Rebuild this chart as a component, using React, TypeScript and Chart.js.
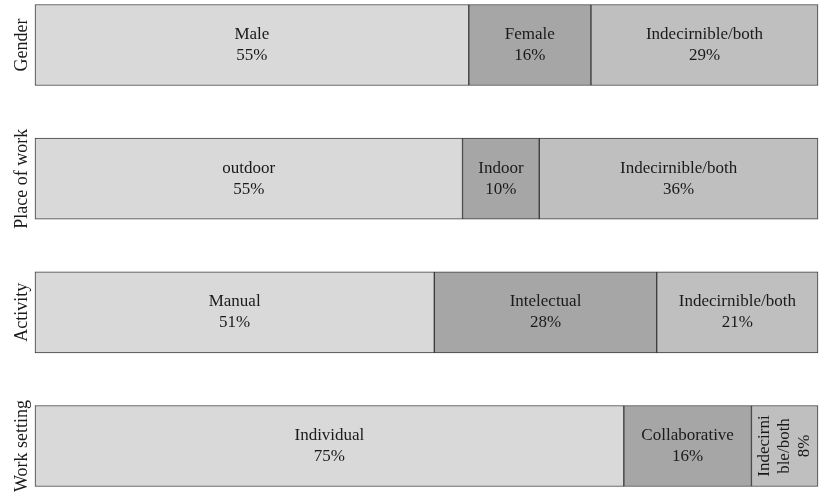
import React, { useEffect, useRef } from "react";
import { Chart, registerables } from "chart.js";

Chart.register(...registerables);

const categories = ["Gender", "Place of work", "Activity", "Work setting"];

const firstValues = [55.4, 54.6, 51.0, 75.2];
const secondValues = [15.6, 9.8, 28.4, 16.3];
const thirdValues = [29.0, 35.6, 20.6, 8.5];

const firstNames = ["Male", "outdoor", "Manual", "Individual"];
const secondNames = ["Female", "Indoor", "Intelectual", "Collaborative"];
const thirdNames = ["Indecirnible/both", "Indecirnible/both", "Indecirnible/both", "Indecirni\nble/both"];

const firstPercents = ["55%", "55%", "51%", "75%"];
const secondPercents = ["16%", "10%", "28%", "16%"];
const thirdPercents = ["29%", "36%", "21%", "8%"];

const thirdRotated = [false, false, false, true];

const FONT = '17px "Liberation Serif", "Times New Roman", serif';
const AXIS_FONT = '18px "Liberation Serif", "Times New Roman", serif';

const segmentLabels = [
  { names: firstNames, percents: firstPercents, rotated: [false, false, false, false] },
  { names: secondNames, percents: secondPercents, rotated: [false, false, false, false] },
  { names: thirdNames, percents: thirdPercents, rotated: thirdRotated },
];

const labelPlugin = {
  id: "segLabels",
  afterDatasetsDraw(chart: any) {
    const ctx = chart.ctx;
    ctx.save();
    ctx.font = FONT;
    ctx.fillStyle = "#1a1a1a";
    ctx.textAlign = "center";
    ctx.textBaseline = "middle";
    const lh = 21;
    chart.data.datasets.forEach((_ds: any, i: number) => {
      const meta = chart.getDatasetMeta(i);
      meta.data.forEach((el: any, j: number) => {
        const cx = (el.x + el.base) / 2;
        const cy = el.y;
        const seg = segmentLabels[i];
        const lines = seg.names[j].split("\n").concat([seg.percents[j]]);
        ctx.save();
        ctx.translate(cx, cy);
        if (seg.rotated[j]) {
          ctx.rotate(-Math.PI / 2);
          const lh2 = 20;
          lines.forEach((l: string, k: number) => {
            ctx.fillText(l, 0, (k - (lines.length - 1) / 2) * lh2);
          });
        } else {
          lines.forEach((l: string, k: number) => {
            ctx.fillText(l, 0, (k - (lines.length - 1) / 2) * lh);
          });
        }
        ctx.restore();
      });
    });
    const yScale = chart.scales.y;
    ctx.font = AXIS_FONT;
    categories.forEach((c, j) => {
      const y = yScale.getPixelForValue(j);
      ctx.save();
      ctx.translate(22, y);
      ctx.rotate(-Math.PI / 2);
      ctx.fillText(c, 0, 0);
      ctx.restore();
    });
    ctx.restore();
  },
};

export default function App() {
  const ref = useRef<HTMLCanvasElement | null>(null);
  useEffect(() => {
    if (!ref.current) return;
    const common = {
      borderColor: "#3c3c3c",
      borderWidth: 1,
      borderSkipped: false,
      barThickness: 81,
      clip: false,
    };
    const chart = new Chart(ref.current, {
      type: "bar",
      data: {
        labels: categories,
        datasets: [
          { data: firstValues, backgroundColor: "#d9d9d9", ...common },
          { data: secondValues, backgroundColor: "#a6a6a6", ...common },
          { data: thirdValues, backgroundColor: "#bfbfbf", ...common },
        ],
      },
      options: {
        indexAxis: "y",
        animation: false,
        responsive: false,
        maintainAspectRatio: false,
        layout: { padding: { left: 35, right: 16, top: 45, bottom: 56 } },
        plugins: { legend: { display: false }, tooltip: { enabled: false } },
        scales: {
          x: { stacked: true, min: 0, max: 100, display: false },
          y: { stacked: true, display: false, offset: false },
        },
      } as any,
      plugins: [labelPlugin],
    });
    return () => chart.destroy();
  }, []);
  return (
    <div style={{ position: "absolute", left: 0, top: 0, width: 834, height: 502, background: "#fff" }}>
      <canvas ref={ref} width={834} height={502} style={{ width: 834, height: 502 }} />
    </div>
  );
}
